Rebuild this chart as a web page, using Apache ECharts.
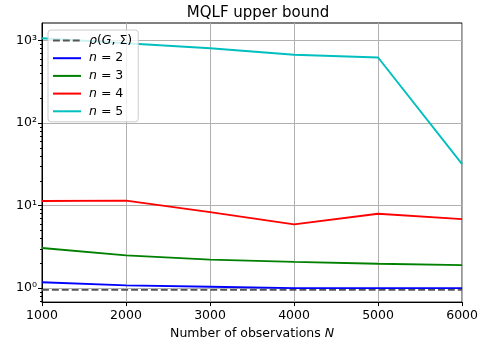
<!DOCTYPE html>
<html>
<head>
<meta charset="utf-8">
<script src="https://cdn.jsdelivr.net/npm/echarts@6/dist/echarts.min.js"></script>
<style>html,body{margin:0;padding:0;background:#fff}#c{width:481px;height:345px}</style>
</head>
<body>
<div id="c"></div>
<script>
const N_OBS = [1000, 2000, 3000, 4000, 5000, 6000];
const RHO = [0.954, 0.954, 0.954, 0.954, 0.954, 0.954];
const N2 = [1.18, 1.08, 1.04, 1.0, 1.0, 1.0];
const N3 = [3.07, 2.50, 2.22, 2.08, 1.98, 1.90];
const N4 = [11.4, 11.5, 8.35, 5.93, 7.98, 6.87];
const N5 = [1066, 929, 807, 673, 623, 31.8];
const X_TICKS = [1000, 2000, 3000, 4000, 5000, 6000];
const Y_MAJOR = [1, 10, 100, 1000];
const Y_MINOR = [0.7, 0.8, 0.9, 2, 3, 4, 5, 6, 7, 8, 9, 20, 30, 40, 50, 60, 70, 80, 90, 200, 300, 400, 500, 600, 700, 800, 900];
const SUP = {'0': '\u2070', '1': '\u00b9', '2': '\u00b2', '3': '\u00b3'};
const LEGEND_TEXT = {
  'rho': '{i|\u03c1}({i|G}, \u03a3)',
  'n2': '{i|n} = 2', 'n3': '{i|n} = 3', 'n4': '{i|n} = 4', 'n5': '{i|n} = 5'
};
const FONT = 'DejaVu Sans';
const FS = 12.5;
const pairs = arr => N_OBS.map((x, i) => [x, arr[i]]);
const mk = (name, arr, color, dash) => ({
  name, type: 'line', data: pairs(arr), symbol: 'none', smooth: false,
  lineStyle: {color, width: 1.9, type: dash ? [6.9, 3] : 'solid'},
  itemStyle: {color}, emphasis: {disabled: true}, animation: false
});
const chart = echarts.init(document.getElementById('c'));
chart.setOption({
  animation: false,
  title: {
    text: 'MQLF upper bound', left: 253, top: 1, textAlign: 'center',
    textStyle: {fontFamily: FONT, fontSize: 15, fontWeight: 'normal', color: '#000'}
  },
  grid: {left: 42, right: 17, top: 23, bottom: 42, show: true, borderColor: '#000', borderWidth: 1, backgroundColor: 'transparent'},
  legend: {
    orient: 'vertical', left: 48, top: 30,
    itemWidth: 28, itemHeight: 14, itemGap: 4.7,
    padding: [4, 6, 4, 4],
    borderColor: '#cccccc', borderWidth: 1, borderRadius: 3,
    backgroundColor: 'rgba(255,255,255,0.8)',
    selectedMode: false,
    itemStyle: {color: 'rgba(0,0,0,0)', borderWidth: 0, opacity: 0},
    formatter: n => LEGEND_TEXT[n],
    textStyle: {fontFamily: FONT, fontSize: FS, color: '#000', padding: [0, 0, 0, 3],
      rich: {i: {fontFamily: FONT, fontSize: FS, fontStyle: 'italic', color: '#000'}}}
  },
  xAxis: {
    type: 'value', min: 1000, max: 6000, interval: 1000,
    name: 'Number of observations {i|N}', nameLocation: 'middle', nameGap: 21,
    nameTextStyle: {fontFamily: FONT, fontSize: FS, color: '#000',
      rich: {i: {fontFamily: FONT, fontSize: FS, fontStyle: 'italic', color: '#000'}}},
    axisLine: {show: true, lineStyle: {color: '#000', width: 1}},
    axisTick: {show: true, length: 4, lineStyle: {color: '#000'}, customValues: X_TICKS},
    axisLabel: {fontFamily: FONT, fontSize: FS, color: '#000', margin: 7, customValues: X_TICKS,
      formatter: v => String(v)},
    splitLine: {show: true, lineStyle: {color: '#b0b0b0', width: 1}}
  },
  yAxis: [{
    type: 'log', logBase: 10, min: 0.678, max: 1632,
    axisLine: {show: true, lineStyle: {color: '#000', width: 1}},
    axisTick: {show: true, length: 4, lineStyle: {color: '#000'}, customValues: Y_MAJOR},
    axisLabel: {fontFamily: FONT, fontSize: FS, color: '#000', margin: 5, customValues: Y_MAJOR,
      formatter: v => '10' + SUP[String(Math.round(Math.log10(v)))]},
    splitLine: {show: true, lineStyle: {color: '#b0b0b0', width: 1}},
    minorTick: {show: false}
  }, {
    type: 'log', logBase: 10, min: 0.678, max: 1632, position: 'left', offset: 0,
    axisLine: {show: false},
    axisTick: {show: true, length: 2, lineStyle: {color: '#000'}, customValues: Y_MINOR},
    axisLabel: {show: false},
    splitLine: {show: false}
  }],
  series: [
    mk('rho', RHO, '#555555', true),
    mk('n2', N2, '#0000ff'),
    mk('n3', N3, '#008000'),
    mk('n4', N4, '#ff0000'),
    mk('n5', N5, '#00bfbf')
  ]
});
</script>
</body>
</html>
